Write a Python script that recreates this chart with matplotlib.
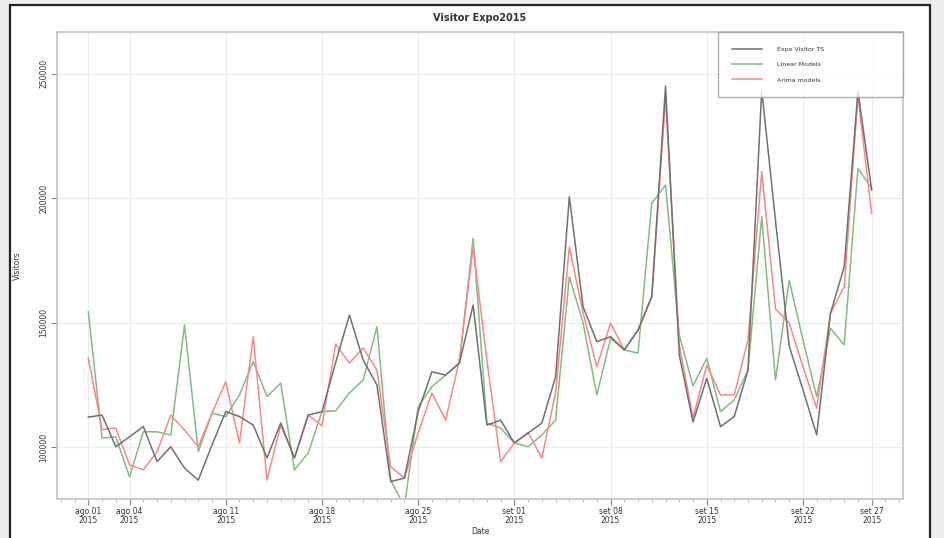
import numpy as np
import pandas as pd
from matplotlib import dates as mdates
from matplotlib import pyplot as plt
from matplotlib.patches import Rectangle

dates = pd.date_range("2015-08-01", periods=58, freq="D")

visitors = [
    112000, 112800, 100100, 104100, 108200, 94100, 100100, 91500, 86700, 100800,
    114200, 112200, 108800, 95600, 109600, 95600, 112800, 114200, 134000, 153000,
    134900, 124900, 86100, 87500, 114200, 130200, 128900, 133700, 157000, 108800,
    110800, 101600, 105600, 109600, 128200, 200500, 156300, 142300, 144300, 139000,
    147000, 160400, 245000, 137000, 110000, 127600, 108200, 112200, 130900, 243500,
    191000, 140500, 123000, 104800, 153700, 172400, 243000, 203200,
]
linear_model = [
    154300, 103600, 104100, 88000, 106100, 106100, 104800, 149000, 98100, 113600,
    112200, 120900, 134300, 120200, 125700, 90800, 97600, 114200, 114500, 121700,
    126900, 148300, 86700, 76000, 116200, 124200, 128900, 133700, 183900, 109600,
    107600, 101600, 100100, 104800, 110800, 168400, 149800, 120900, 143600, 139000,
    137700, 197900, 205200, 145000, 124500, 135600, 114200, 118900, 130900, 192500,
    126900, 167000, 143000, 120200, 147700, 141000, 211900, 203900,
]
other_model = [
    135700, 107000, 107600, 92800, 90800, 98000, 112800, 106800, 100100, 113600,
    126200, 101600, 144300, 86700, 108800, 95600, 112800, 108500, 141300, 133700,
    139800, 130900, 92100, 87500, 105600, 121700, 110800, 134900, 180400, 135000,
    94100, 101600, 105800, 95600, 121700, 180400, 153800, 132200, 149800, 139000,
    147000, 160400, 240200, 141000, 111600, 132900, 120900, 120900, 143000, 210600,
    155500, 149800, 132200, 115600, 153700, 164400, 241000, 193800,
]

tick_dates = pd.to_datetime([
    "2015-08-01", "2015-08-04", "2015-08-11", "2015-08-18", "2015-08-25",
    "2015-09-01", "2015-09-08", "2015-09-15", "2015-09-22", "2015-09-27",
])
tick_labels = [
    "ago 01\n2015", "ago 04\n2015", "ago 11\n2015", "ago 18\n2015", "ago 25\n2015",
    "set 01\n2015", "set 08\n2015", "set 15\n2015", "set 22\n2015", "set 27\n2015",
]
y_ticks = [100000, 150000, 200000, 250000]

fig = plt.figure(figsize=(9.44, 5.38), dpi=100)
fig.patch.set_facecolor("#ececec")
# screenshot frame, drawn behind the axes
frame = Rectangle((10 / 944, -0.01), 920 / 944, 1.0, transform=fig.transFigure,
                  facecolor="white", edgecolor="#222222", linewidth=1.6, zorder=-10)
fig.patches.append(frame)

ax = fig.add_axes([57 / 944, 39 / 538, 846 / 944, 467 / 538])
ax.set_zorder(1)
ax.set_facecolor("white")

ax.plot(dates, visitors, color="#707070", lw=1.1, label="Expo Visitor TS", zorder=3)
ax.plot(dates, linear_model, color="#80bd80", lw=1.1, label="Linear Models", zorder=2)
ax.plot(dates, other_model, color="#ff8585", lw=1.1, label="Arima models", zorder=2)

ax.set_xlim(dates[0] - pd.Timedelta(hours=54.7), dates[-1] + pd.Timedelta(hours=54.7))
ax.set_ylim(79100, 266700)

ax.set_xticks(tick_dates)
ax.set_xticklabels(tick_labels, fontsize=5.5, color="#333333", linespacing=0.9)
ax.xaxis.set_minor_locator(mdates.DayLocator())
ax.set_yticks(y_ticks)
ax.set_yticklabels([str(v) for v in y_ticks], rotation=90, va="center",
                   fontsize=5.5, color="#333333")
ax.tick_params(which="major", length=4, width=0.8, color="#888888", pad=2)
ax.tick_params(which="minor", length=2, width=0.6, color="#aaaaaa")
ax.grid(True, which="major", color="#ececec", linewidth=0.8)
ax.set_axisbelow(True)

for s in ax.spines.values():
    s.set_color("#c4c4c4")
    s.set_linewidth(1.2)

ax.set_title("Visitor Expo2015", fontsize=7, fontweight="bold", color="#333333", pad=8)
ax.set_xlabel("Date", fontsize=5.5, color="#333333", labelpad=2)
ax.set_ylabel("Visitors", fontsize=5.5, color="#333333", labelpad=13)

# wide R-style legend box in the top right corner
leg = ax.legend(loc="upper left", bbox_to_anchor=(0.781, 0.863, 0.219, 0.137),
                mode="expand", fontsize=4.5, frameon=True, fancybox=False,
                borderpad=2.3, labelspacing=1.6, handlelength=4.8, handletextpad=2.4,
                borderaxespad=0)
leg.get_frame().set_edgecolor("#999999")
leg.get_frame().set_linewidth(1.0)
leg.set_zorder(5)
for t in leg.get_texts():
    t.set_color("#333333")

fig.savefig("out.png", dpi=100, facecolor=fig.get_facecolor())
